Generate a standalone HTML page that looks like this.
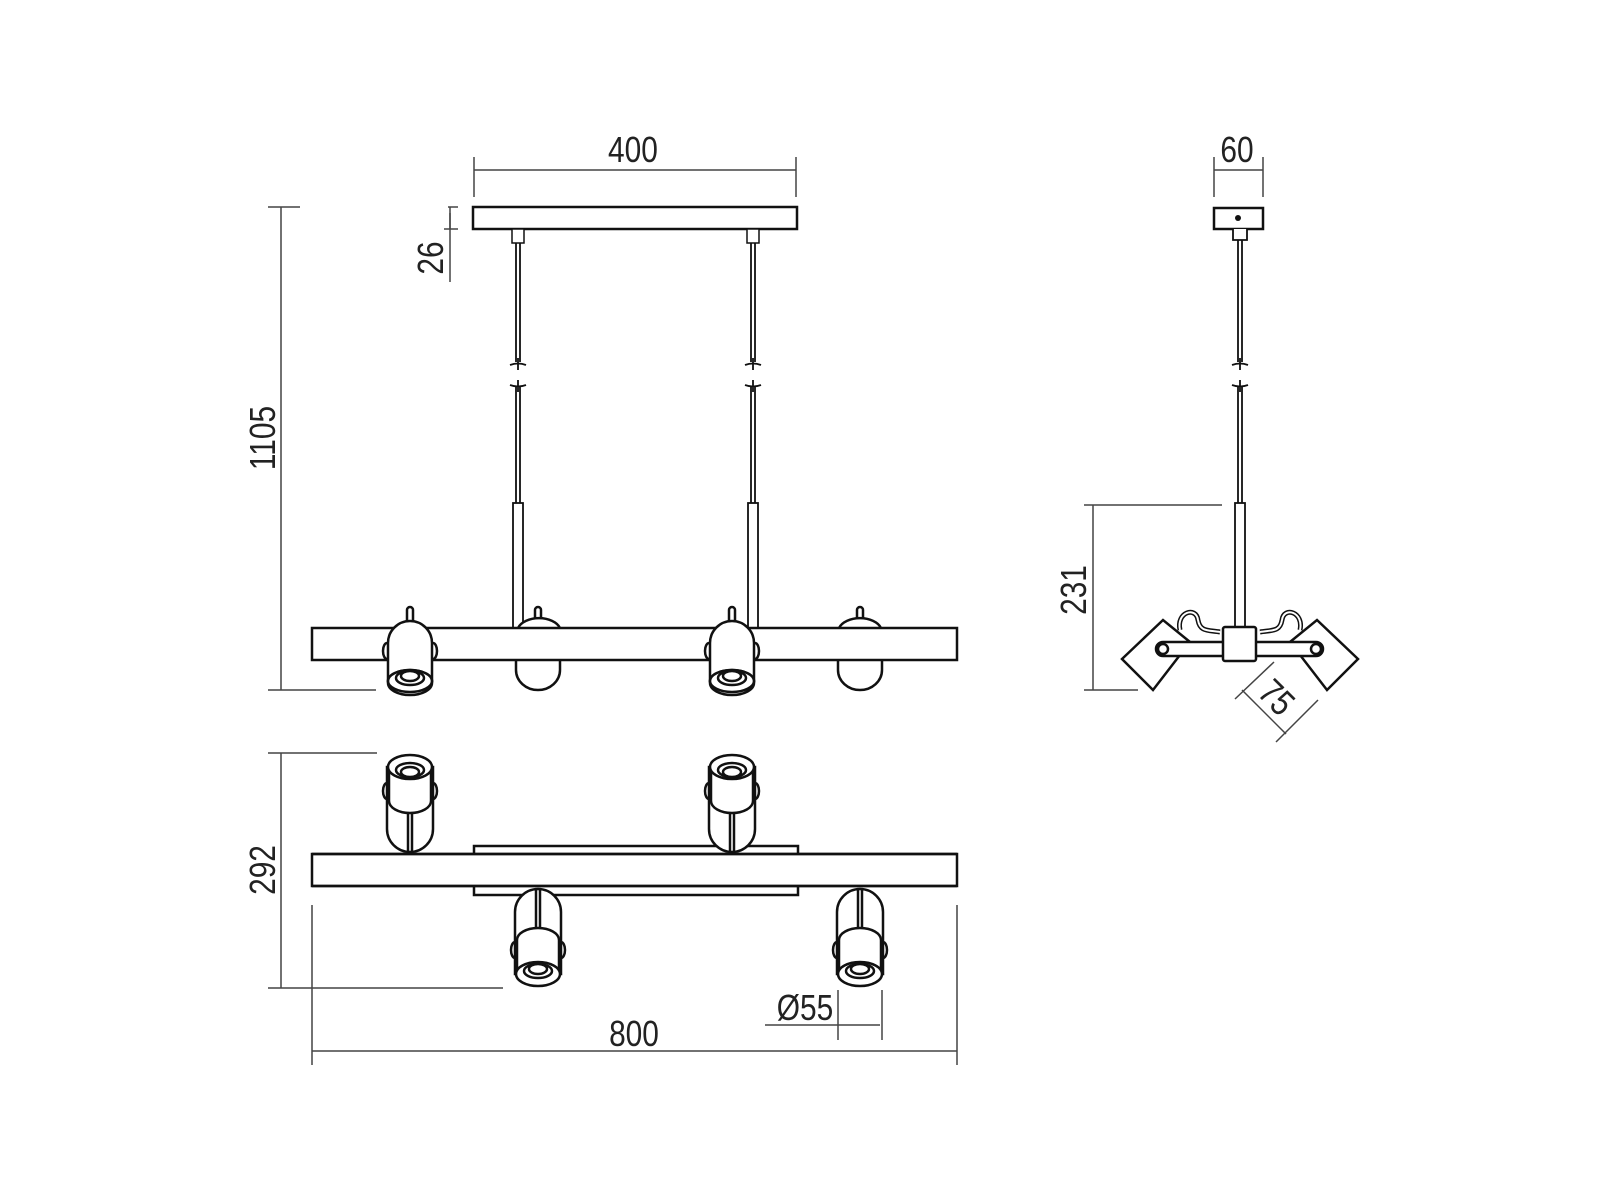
<!DOCTYPE html>
<html><head><meta charset="utf-8"><style>
html,body{margin:0;padding:0;background:#fff;}
svg{display:block}
text{font-family:"Liberation Sans",sans-serif;font-size:36px;fill:#222;}
</style></head><body>
<svg width="1600" height="1200" viewBox="0 0 1600 1200" xmlns="http://www.w3.org/2000/svg">
<defs>
<g id="fspot" fill="#fff" stroke="#111" stroke-width="2.5">
  <!-- front-facing spot, centered at 0, top at y=0 -->
  <rect x="-3" y="-14" width="6" height="16" rx="3"/>
  <ellipse cx="-23" cy="30" rx="4" ry="8"/>
  <ellipse cx="23" cy="30" rx="4" ry="8"/>
  <path d="M-22,60 V22 A22,22 0 0 1 22,22 V60 Z"/>
  <ellipse cx="0" cy="60" rx="22" ry="11"/>
  <path d="M-22,60 A22,11 0 0 0 22,60 A22,11 0 0 0 -22,60 M-22,60 V62 A22,12 0 0 0 22,62 V60" fill="#fff"/>
  <ellipse cx="0" cy="57" rx="14" ry="7"/>
  <ellipse cx="0" cy="55" rx="9" ry="5"/>
</g>
<g id="vspot" fill="#fff" stroke="#111" stroke-width="2.5">
  <!-- top view spot, lens at top; origin top-center -->
  <ellipse cx="-23" cy="38" rx="4" ry="8"/>
  <ellipse cx="23" cy="38" rx="4" ry="8"/>
  <path d="M-23,14 V76 A23,23 0 0 0 23,76 V14 Z"/>
  <line x1="-2" y1="58" x2="-2" y2="98"/><line x1="2" y1="58" x2="2" y2="98"/>
  <path d="M-21,14 V48 A21,12 0 0 0 21,48 V14"/>
  <ellipse cx="0" cy="14" rx="22" ry="12"/>
  <ellipse cx="0" cy="17" rx="14" ry="7"/>
  <ellipse cx="0" cy="19" rx="9" ry="5"/>
</g>
</defs>

<g stroke="#444" stroke-width="1.5" fill="none">
  <!-- 400 dim -->
  <line x1="474" y1="170" x2="796" y2="170"/>
  <line x1="474" y1="157" x2="474" y2="197"/>
  <line x1="796" y1="157" x2="796" y2="197"/>
  <!-- 26 dim -->
  <line x1="448" y1="207" x2="458" y2="207"/>
  <line x1="444" y1="229" x2="458" y2="229"/>
  <line x1="450" y1="207" x2="450" y2="282"/>
  <line x1="450" y1="213" x2="450" y2="229"/>
  <!-- 1105 dim -->
  <line x1="281" y1="207" x2="281" y2="690"/>
  <line x1="268" y1="207" x2="300" y2="207"/>
  <line x1="268" y1="690" x2="376" y2="690"/>
  <!-- 292 dim -->
  <line x1="281" y1="753" x2="281" y2="988"/>
  <line x1="268" y1="753" x2="377" y2="753"/>
  <line x1="268" y1="988" x2="503" y2="988"/>
  <!-- 800 dim -->
  <line x1="312" y1="1051" x2="957" y2="1051"/>
  <line x1="312" y1="905" x2="312" y2="1065"/>
  <line x1="957" y1="905" x2="957" y2="1065"/>
  <!-- Ø55 -->
  <line x1="765" y1="1025" x2="880" y2="1025"/>
  <line x1="838" y1="990" x2="838" y2="1040"/>
  <line x1="882" y1="990" x2="882" y2="1040"/>
  <!-- 60 dim -->
  <line x1="1214" y1="170" x2="1263" y2="170"/>
  <line x1="1214" y1="157" x2="1214" y2="197"/>
  <line x1="1263" y1="157" x2="1263" y2="197"/>
  <!-- 231 dim -->
  <line x1="1093" y1="505" x2="1093" y2="690"/>
  <line x1="1084" y1="505" x2="1222" y2="505"/>
  <line x1="1084" y1="690" x2="1138" y2="690"/>
  <!-- 75 dim -->
  <line x1="1242" y1="690" x2="1286" y2="734"/>
  <line x1="1235" y1="699" x2="1274" y2="662"/>
  <line x1="1276" y1="742" x2="1318" y2="700"/>
</g>

<!-- labels -->
<text x="633" y="162" text-anchor="middle" transform="translate(633 0) scale(0.83 1) translate(-633 0)">400</text>
<text x="1237" y="162" text-anchor="middle" transform="translate(1237 0) scale(0.83 1) translate(-1237 0)">60</text>
<text x="634" y="1046" text-anchor="middle" transform="translate(634 0) scale(0.83 1) translate(-634 0)">800</text>
<text x="805" y="1020" text-anchor="middle" transform="translate(805 0) scale(0.83 1) translate(-805 0)">Ø55</text>
<text transform="translate(443 258) rotate(-90) scale(0.83 1)" text-anchor="middle">26</text>
<text transform="translate(275 438) rotate(-90) scale(0.83 1)" text-anchor="middle">1105</text>
<text transform="translate(275 870) rotate(-90) scale(0.83 1)" text-anchor="middle">292</text>
<text transform="translate(1086 590) rotate(-90) scale(0.83 1)" text-anchor="middle">231</text>
<text transform="translate(1268 706) rotate(45) scale(0.83 1)" text-anchor="middle">75</text>

<!-- FRONT VIEW -->
<g fill="#fff" stroke="#111" stroke-width="2.5">
  <rect x="473" y="207" width="324" height="22"/>
  <rect x="512" y="229" width="12" height="14" stroke-width="1.5"/>
  <rect x="747" y="229" width="12" height="14" stroke-width="1.5"/>
</g>
<g stroke="#111" stroke-width="1.8" fill="none">
  <line x1="516" y1="243" x2="516" y2="362"/><line x1="520" y1="243" x2="520" y2="362"/>
  <line x1="751" y1="243" x2="751" y2="362"/><line x1="755" y1="243" x2="755" y2="362"/>
  <line x1="516" y1="387" x2="516" y2="503"/><line x1="520" y1="387" x2="520" y2="503"/>
  <line x1="751" y1="387" x2="751" y2="503"/><line x1="755" y1="387" x2="755" y2="503"/>
  <path d="M510,365 Q518,362 526,365 M518,358 V370 M510,385 Q518,388 526,385 M518,380 V392"/>
  <path d="M745,365 Q753,362 761,365 M753,358 V370 M745,385 Q753,388 761,385 M753,380 V392"/>
  <rect x="513" y="503" width="10" height="125" fill="#fff"/>
  <rect x="748" y="503" width="10" height="125" fill="#fff"/>
  <!-- side view rod -->
  <line x1="1238" y1="240" x2="1238" y2="362"/><line x1="1242" y1="240" x2="1242" y2="362"/>
  <line x1="1238" y1="387" x2="1238" y2="503"/><line x1="1242" y1="387" x2="1242" y2="503"/>
  <path d="M1232,365 Q1240,362 1248,365 M1240,358 V370 M1232,385 Q1240,388 1248,385 M1240,380 V392"/>
  <rect x="1235" y="503" width="10" height="124" fill="#fff"/>
</g>
<!-- back spots (front view) -->
<g fill="#fff" stroke="#111" stroke-width="2.5">
  <rect x="535" y="607" width="6" height="16" rx="3"/>
  <path d="M518,628 A22,14 0 0 1 560,628"/>
  <path d="M516,660 V670 A22,20 0 0 0 560,670 V660"/>
  <rect x="857" y="607" width="6" height="16" rx="3"/>
  <path d="M839,628 A22,14 0 0 1 881,628"/>
  <path d="M838,660 V670 A22,20 0 0 0 882,670 V660"/>
  <rect x="312" y="628" width="645" height="32"/>
</g>
<use href="#fspot" x="410" y="621"/>
<use href="#fspot" x="732" y="621"/>

<!-- TOP VIEW -->
<g fill="#fff" stroke="#111" stroke-width="2.5">
  <rect x="474" y="846" width="324" height="49"/>
  <rect x="312" y="854" width="645" height="32"/>
</g>
<use href="#vspot" x="410" y="753"/>
<use href="#vspot" x="732" y="753"/>
<use href="#vspot" transform="translate(538 988) scale(1 -1)"/>
<use href="#vspot" transform="translate(860 988) scale(1 -1)"/>
<g fill="none" stroke="#111" stroke-width="2.5">
  <line x1="312" y1="854" x2="957" y2="854"/>
  <line x1="312" y1="886" x2="957" y2="886"/>
</g>

<!-- SIDE VIEW -->
<g fill="#fff" stroke="#111" stroke-width="2.5">
  <rect x="1214" y="208" width="49" height="21"/>
  <path d="M1233,229 V240 H1247 V229" stroke-width="1.8"/>
  <path d="M1180,630 C1176,612 1196,606 1198,620 C1200,632 1208,630 1220,632" fill="none" stroke-width="5"/>
  <path d="M1180,630 C1176,612 1196,606 1198,620 C1200,632 1208,630 1220,632" fill="none" stroke="#fff" stroke-width="2"/>
  <path d="M1300,630 C1304,612 1284,606 1282,620 C1280,632 1272,630 1260,632" fill="none" stroke-width="5"/>
  <path d="M1300,630 C1304,612 1284,606 1282,620 C1280,632 1272,630 1260,632" fill="none" stroke="#fff" stroke-width="2"/>
  <polygon points="1122,659 1163,620 1190,642 1153,690"/>
  <polygon points="1358,659 1317,620 1290,642 1327,690"/>
  <rect x="1156" y="642" width="167" height="14" rx="7"/>
  <circle cx="1163" cy="649" r="5"/>
  <circle cx="1316" cy="649" r="5"/>
  <rect x="1223" y="627" width="33" height="34" rx="2"/>
</g>
<circle cx="1238" cy="218" r="3" fill="#111"/>
</svg>
</body></html>
